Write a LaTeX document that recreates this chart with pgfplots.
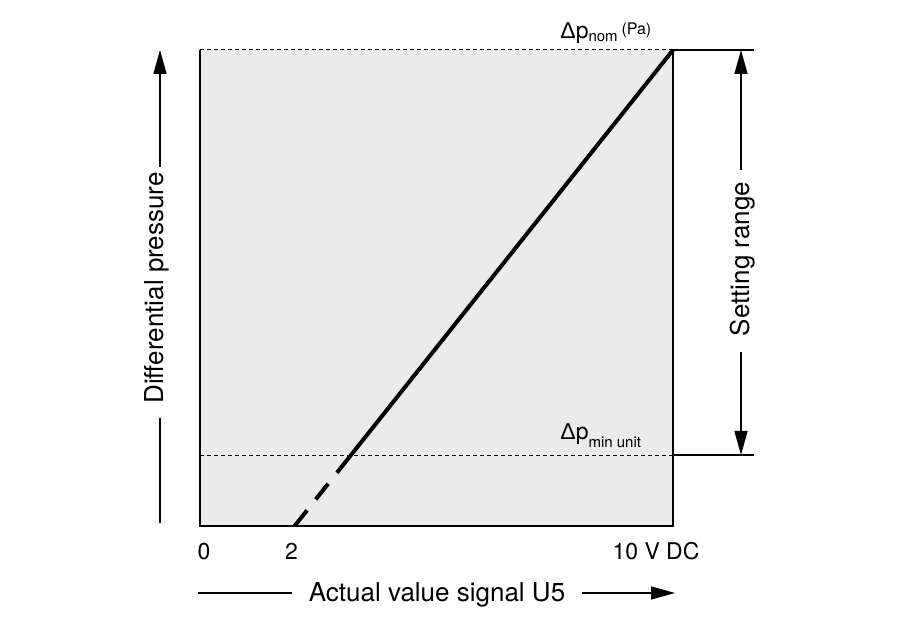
\documentclass[border=0pt]{standalone}
\usepackage{pgfplots}
\pgfplotsset{compat=1.18}
\usepackage{fontspec}
\setmainfont{TeX Gyre Heros}
\newfontfamily\lib{Liberation Sans}
\usetikzlibrary{arrows.meta}
\definecolor{bgray}{RGB}{235,235,235}
\begin{document}
\begin{tikzpicture}
\useasboundingbox[fill=white] (0,0) rectangle (450pt,310pt);
\begin{axis}[
  at={(100pt,47pt)}, anchor=south west,
  scale only axis, width=236.5pt, height=238pt,
  xmin=0, xmax=10, ymin=0, ymax=1,
  axis line style={draw=none},
  axis background/.style={fill=bgray},
  xtick={0,2}, xticklabels={\hspace*{4pt}0, 2\hspace*{3pt}},
  extra x ticks={10}, extra x tick labels={10 V DC},
  extra x tick style={xticklabel style={xshift=-8.5pt}},
  ytick=\empty,
  major tick length=0pt,
  xticklabel style={anchor=base, yshift=-17pt, font=\fontsize{11.5}{13}\selectfont},
  /pgf/number format/assume math mode=true,
  clip=false,
]
\draw[line width=1pt] (axis cs:0,1) -- (axis cs:0,0) -- (axis cs:10,0) -- (axis cs:10,1);
\draw[line width=0.5pt, dash pattern=on 2pt off 1.5pt] (axis cs:0,1) -- (axis cs:10,1);
\draw[line width=0.5pt, dash pattern=on 2pt off 1.5pt] (axis cs:0,0.149) -- (axis cs:10,0.149);
\addplot[line width=2pt, dash pattern=on 10pt off 7pt] coordinates {(2,0) (2.97,0.12125)};
\addplot[line width=2pt] coordinates {(2.97,0.12125) (10,1)};
\end{axis}
% bottom label with arrow
\draw[line width=0.75pt] (99pt,13.5pt) -- (146pt,13.5pt);
\draw[line width=0.75pt,-{Triangle[length=12pt,width=6.5pt]}] (291pt,13.5pt) -- (337.5pt,13.5pt);
\node[anchor=base, inner sep=0pt, font=\fontsize{13}{15}\selectfont] at (218.5pt,9pt) {Actual value signal U5};
% left label with arrow
\draw[line width=0.75pt] (80pt,48.5pt) -- (80pt,101pt);
\draw[line width=0.75pt,-{Triangle[length=12pt,width=6.5pt]}] (80pt,226.5pt) -- (80pt,285pt);
\node[rotate=90, anchor=base, inner sep=0pt, font=\fontsize{13}{15}\selectfont] at (81.5pt,166pt) {Differential pressure};
% right setting range
\draw[line width=0.6pt] (336.5pt,285pt) -- (377pt,285pt);
\draw[line width=0.6pt] (336.5pt,82.5pt) -- (377pt,82.5pt);
\draw[line width=0.75pt,-{Triangle[length=12pt,width=6.5pt]}] (370.5pt,225pt) -- (370.5pt,285pt);
\draw[line width=0.75pt,-{Triangle[length=12pt,width=6.5pt]}] (370.5pt,134pt) -- (370.5pt,82.5pt);
\node[rotate=90, anchor=base, inner sep=0pt, font=\fontsize{13}{15}\selectfont] at (374.5pt,180.5pt) {Setting range};
% delta p labels
\node[anchor=base west, inner sep=0pt, font=\fontsize{11.5}{13}\selectfont] at (280pt,290.5pt)
  {{\lib Δ}p\raisebox{-1.5pt}{\fontsize{7.5}{9}\selectfont nom}\,\raisebox{2pt}{\fontsize{8}{9}\selectfont (Pa)}};
\node[anchor=base west, inner sep=0pt, font=\fontsize{11.5}{13}\selectfont] at (280pt,90pt)
  {{\lib Δ}p\raisebox{-4pt}{\fontsize{7.5}{9}\selectfont min unit}};
\end{tikzpicture}
\end{document}
